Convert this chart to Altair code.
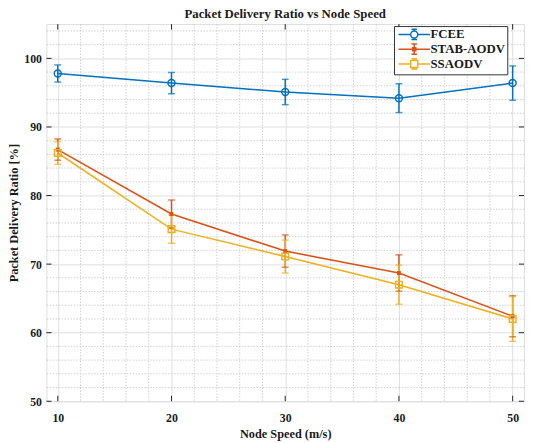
import altair as alt
import pandas as pd

# ---- data ----
speeds = [10, 20, 30, 40, 50]
fcee = [97.8, 96.4, 95.1, 94.2, 96.4]
fcee_err = [1.25, 1.55, 1.85, 2.1, 2.5]
stab = [86.7, 77.3, 71.9, 68.7, 62.4]
stab_err = [1.55, 2.05, 2.35, 2.65, 3.0]
ssaodv = [86.2, 75.1, 71.1, 67.0, 62.0]
ssaodv_err = [1.65, 2.05, 2.4, 2.85, 3.25]

series = ["FCEE", "STAB-AODV", "SSAODV"]
colors = ["#0072BD", "#D95319", "#EDB120"]

x_major = [10, 20, 30, 40, 50]
x_minor = [12, 14, 16, 18, 22, 24, 26, 28, 32, 34, 36, 38, 42, 44, 46, 48]
y_major = [50, 60, 70, 80, 90, 100]
y_minor = [52, 54, 56, 58, 62, 64, 66, 68, 72, 74, 76, 78, 82, 84, 86, 88,
           92, 94, 96, 98, 102, 104]

rows = []
for name, vals, errs in [("FCEE", fcee, fcee_err), ("STAB-AODV", stab, stab_err),
                         ("SSAODV", ssaodv, ssaodv_err)]:
    for s, v, e in zip(speeds, vals, errs):
        rows.append({"speed": s, "pdr": v, "lo": v - e, "hi": v + e, "series": name})
df = pd.DataFrame(rows)

FONT = "Liberation Serif"
TXT = "#1a1a1a"
XDOM = [9, 51]
YDOM = [50, 105]

xscale = alt.Scale(domain=XDOM, nice=False, zero=False)
yscale = alt.Scale(domain=YDOM, nice=False, zero=False)
xaxis = alt.Axis(values=x_major, grid=True, gridColor="#dedede", gridWidth=1,
                 domain=False, ticks=False, labelFont=FONT, labelFontSize=12,
                 labelFontWeight="bold", labelColor=TXT, labelPadding=12,
                 title="Node Speed (m/s)", titleFont=FONT, titleFontSize=12.5,
                 titleFontWeight="bold", titleColor=TXT, titlePadding=4)
yaxis = alt.Axis(values=y_major, grid=True, gridColor="#dedede", gridWidth=1,
                 domain=False, ticks=False, labelFont=FONT, labelFontSize=12,
                 labelFontWeight="bold", labelColor=TXT, labelPadding=5,
                 title="Packet Delivery Ratio [%]", titleFont=FONT, titleFontSize=12.5,
                 titleFontWeight="bold", titleColor=TXT, titlePadding=3)

X = lambda f: alt.X(f, scale=xscale, axis=xaxis)
Y = lambda f: alt.Y(f, scale=yscale, axis=yaxis)
# same colour mapping, listed in another order so these legend-less channels
# are not merged with the visible legend
order = [1, 2, 0]
mscale = alt.Scale(domain=[series[i] for i in order], range=[colors[i] for i in order])
stroke_c = alt.Stroke("series:N", scale=mscale, legend=None)
fill_c = alt.Fill("series:N", scale=mscale, legend=None)

# minor grid
minor_x = alt.Chart(pd.DataFrame({"v": x_minor})).mark_rule(
    color="#c4c4c4", strokeWidth=0.8, strokeDash=[1.5, 1.5]).encode(x=X("v:Q"))
minor_y = alt.Chart(pd.DataFrame({"v": y_minor})).mark_rule(
    color="#c4c4c4", strokeWidth=0.8, strokeDash=[1.5, 1.5]).encode(y=Y("v:Q"))

# inward ticks
tx = pd.DataFrame({"v": x_major})
ty = pd.DataFrame({"v": y_major})
tick_style = dict(color="#262626", strokeWidth=1)
tick_bottom = alt.Chart(tx).mark_rule(**tick_style).encode(
    x=X("v:Q"), y=alt.datum(50), y2=alt.datum(50.8))
tick_top = alt.Chart(tx).mark_rule(**tick_style).encode(
    x=X("v:Q"), y=alt.datum(105), y2=alt.datum(104.2))
tick_left = alt.Chart(ty).mark_rule(**tick_style).encode(
    y=Y("v:Q"), x=alt.datum(9), x2=alt.datum(9.45))
tick_right = alt.Chart(ty).mark_rule(**tick_style).encode(
    y=Y("v:Q"), x=alt.datum(51), x2=alt.datum(50.55))

base = alt.Chart(df)
lines = base.mark_line(strokeWidth=1.6).encode(
    x=X("speed:Q"), y=Y("pdr:Q"), stroke=stroke_c, detail="series:N")
bars = base.mark_rule(strokeWidth=1.5).encode(
    x=X("speed:Q"), y=Y("lo:Q"), y2="hi:Q", stroke=stroke_c)
cap_lo = base.mark_tick(orient="horizontal", size=7, thickness=1.5).encode(
    x=X("speed:Q"), y=Y("lo:Q"), fill=fill_c)
cap_hi = base.mark_tick(orient="horizontal", size=7, thickness=1.5).encode(
    x=X("speed:Q"), y=Y("hi:Q"), fill=fill_c)

pts_fcee = base.transform_filter(alt.datum.series == "FCEE").mark_point(
    shape="circle", filled=False, size=50, strokeWidth=1.5, opacity=1).encode(
    x=X("speed:Q"), y=Y("pdr:Q"), stroke=stroke_c)
pts_stab = base.transform_filter(alt.datum.series == "STAB-AODV").mark_point(
    shape="square", filled=True, size=16, opacity=1).encode(
    x=X("speed:Q"), y=Y("pdr:Q"), fill=fill_c)
pts_ss = base.transform_filter(alt.datum.series == "SSAODV").mark_point(
    shape="square", filled=False, size=45, strokeWidth=1.5, opacity=1).encode(
    x=X("speed:Q"), y=Y("pdr:Q"), stroke=stroke_c)

# legend symbols: line + marker + error bar
leg_paths = [
    "M-1,0H2.1M3.9,0H7M2.1,0A0.9,0.9 0 1,0 3.9,0A0.9,0.9 0 1,0 2.1,0M3,-1.3V-0.9M3,0.9V1.3M2.3,-1.3H3.7M2.3,1.3H3.7",
    "M-1,0H7M2.6,-0.4H3.4V0.4H2.6ZM3,-1.3V1.3M2.3,-1.3H3.7M2.3,1.3H3.7",
    "M-1,0H2.1M3.9,0H7M2.1,-0.9H3.9V0.9H2.1ZM3,-1.3V-0.9M3,0.9V1.3M2.3,-1.3H3.7M2.3,1.3H3.7",
]
cscale = alt.Scale(domain=series, range=colors)
leg_df = pd.DataFrame({"series": series})
legend_layer = alt.Chart(leg_df).mark_point(filled=False, size=0, opacity=1).encode(
    color=alt.Color("series:N", scale=cscale,
                    legend=alt.Legend(title=None, orient="none", legendX=353, legendY=2,
                                      fillColor="white", strokeColor="#333333",
                                      padding=2, symbolSize=64, symbolStrokeWidth=1.5,
                                      labelFont=FONT, labelFontSize=13,
                                      labelFontWeight="bold", labelColor=TXT,
                                      labelOffset=22, rowPadding=-5.5)),
    shape=alt.Shape("series:N", scale=alt.Scale(domain=series, range=leg_paths)),
)

chart = alt.layer(
    minor_x, minor_y, lines, bars, cap_lo, cap_hi, pts_fcee, pts_stab, pts_ss,
    tick_bottom, tick_top, tick_left, tick_right, legend_layer
).properties(
    width=485, height=383,
    title=alt.TitleParams("Packet Delivery Ratio vs Node Speed", font=FONT, fontSize=13,
                          fontWeight="bold", color=TXT, offset=3, anchor="middle"),
    autosize=alt.AutoSizeParams(type="none"),
    padding={"left": 39, "top": 13, "right": 1, "bottom": 37},
).configure_view(stroke="#262626", strokeWidth=1.2).configure(background="white")

chart.save("out.html", embed_options={"renderer": "svg", "actions": False})
